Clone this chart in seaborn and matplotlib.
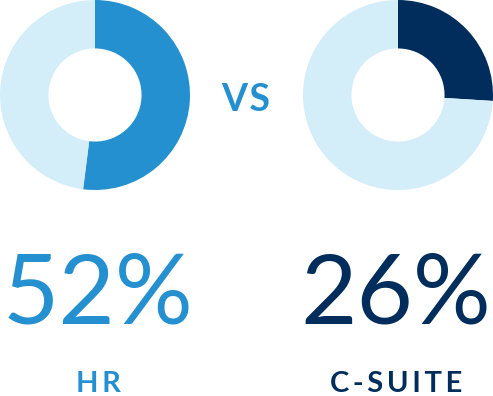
import matplotlib
matplotlib.use("Agg")
import matplotlib.pyplot as plt
import seaborn as sns

sns.set_theme(style="white")
plt.rcParams['font.family'] = ['Lato', 'DejaVu Sans']

groups = ["HR", "C-SUITE"]
values = [52, 26]
main_colors = ["#2590d0", "#002d5c"]
rest_color = "#d4eef9"
label_texts = ["52%", "26%"]

W, H = 493, 396
fig = plt.figure(figsize=(W / 100, H / 100), dpi=100)
fig.patch.set_facecolor("white")

centers_x = [95, 398]
R = 95
for cx, v, col in zip(centers_x, values, main_colors):
    ax = fig.add_axes([(cx - R) / W, (H - 95 - R) / H, 2 * R / W, 2 * R / H])
    ax.pie([v, 100 - v], colors=[col, rest_color], startangle=90, counterclock=False,
           radius=1.0, wedgeprops=dict(width=0.51, linewidth=0))
    ax.set_xlim(-1, 1)
    ax.set_ylim(-1, 1)
    ax.set_aspect("equal")
    ax.axis("off")

fig.text(246 / W, 1 - 100 / H, "V\u200aS", color=main_colors[0], fontsize=27, fontweight="bold",
         ha="center", va="center")

for cx, txt, col, grp in zip([98, 396], label_texts, main_colors, groups):
    fig.text(cx / W, 1 - 296 / H, txt, color=col, fontsize=70, fontweight="normal",
             ha="center", va="center")
    fig.text(cx / W, 1 - 384 / H, "\u2009".join(grp), color=col, fontsize=21, fontweight="bold",
             ha="center", va="center")

fig.savefig("out.png", dpi=100, facecolor="white")
